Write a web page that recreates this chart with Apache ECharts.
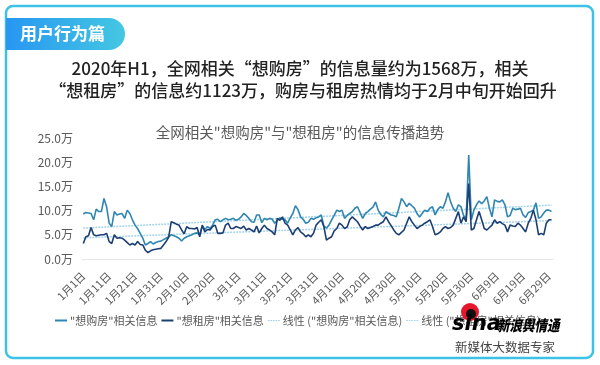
<!DOCTYPE html>
<html><head><meta charset="utf-8">
<script src="https://cdn.jsdelivr.net/npm/echarts@6/dist/echarts.min.js"></script>
<style>html,body{margin:0;padding:0;background:#fff}#c{width:600px;height:365px}</style>
</head><body><div id="c"></div>
<script>
// ---- data ----
const monthLengths = [31, 29, 31, 30, 31, 30]; // 2020 H1
const buyName = '"想购房"相关信息';
const rentName = '"想租房"相关信息';
const buyTrendName = '线性 ("想购房"相关信息)';
const rentTrendName = '线性 ("想租房"相关信息)';
const yTicks = [0, 5, 10, 15, 20, 25];
const buyValues = [
  9.3,9.6,9.5,9.4,8.1,10.3,9.8,9.8,12.5,10.8,
  7.4,6.7,9.8,9.1,9.3,9.4,8.4,10.1,9.4,8.1,
  7.0,6.3,5.3,4.3,2.9,3.2,3.6,3.1,3.4,3.6,
  3.7,4.0,4.3,4.6,5.0,4.8,4.6,4.3,3.7,4.3,
  4.6,4.8,5.0,5.3,5.4,5.0,6.8,6.1,6.7,6.3,
  7.0,8.1,8.2,7.7,8.1,8.4,8.1,8.2,8.4,8.0,
  8.2,8.7,9.4,9.0,8.4,7.7,7.6,9.1,9.1,7.5,
  8.4,8.1,8.4,8.2,7.4,8.0,8.5,8.2,8.1,7.4,
  8.5,9.4,11.0,10.2,8.7,8.2,7.4,7.6,8.4,8.2,
  8.5,8.7,9.1,6.8,6.4,7.0,8.1,9.0,10.1,9.8,
  10.1,8.4,9.0,9.4,9.8,10.5,10.8,9.6,8.4,9.4,
  9.8,10.3,10.7,11.8,10.1,9.2,8.7,9.8,9.4,9.1,
  9.0,8.7,10.5,12.5,11.8,10.8,11.5,11.0,10.5,9.4,
  8.7,9.4,10.1,9.8,10.5,10.8,9.1,10.2,10.8,10.5,
  11.8,13.7,11.8,10.5,9.8,11.2,10.8,9.0,8.4,21.5,
  8.1,10.1,11.2,12.0,11.4,12.0,12.9,10.5,8.7,12.2,
  11.9,11.8,12.2,11.2,8.7,9.0,10.5,10.2,10.3,10.5,
  9.1,8.6,9.6,9.8,10.1,11.6,8.4,8.7,9.5,10.1,
  10.1,9.8
];
const rentValues = [
  3.2,4.6,4.8,6.5,5.0,4.8,4.9,5.0,5.0,5.3,
  3.6,3.2,5.0,4.3,4.4,4.3,3.9,3.4,2.9,3.2,
  2.9,3.6,3.0,2.9,1.8,1.3,1.7,1.9,2.0,2.1,
  2.2,2.9,3.6,4.5,7.7,7.5,7.2,7.0,6.0,5.2,
  6.7,6.3,6.3,6.2,6.5,4.6,7.0,5.6,6.1,6.0,
  6.7,7.0,5.3,5.3,5.4,7.0,7.4,6.3,6.3,6.7,
  6.5,6.3,6.8,6.0,6.3,6.0,5.6,6.8,5.4,6.3,
  7.0,6.3,6.0,5.6,5.0,8.4,8.0,8.7,7.4,7.0,
  6.0,5.0,6.0,6.5,5.6,5.2,4.6,5.0,4.6,5.3,
  7.0,7.6,8.1,6.7,3.9,4.3,4.6,5.8,6.3,7.4,
  7.0,6.3,6.6,8.1,8.7,8.2,7.7,6.8,6.0,6.7,
  6.3,6.5,6.7,7.0,7.0,7.4,7.7,8.7,7.7,6.9,
  6.0,5.3,5.0,5.5,6.0,7.4,8.7,7.7,7.0,6.3,
  6.7,7.0,7.4,7.7,8.1,6.7,5.0,5.2,5.6,6.3,
  6.7,6.3,6.5,7.0,8.4,9.8,7.4,8.7,7.7,15.6,
  6.0,6.3,8.1,9.8,8.1,6.3,6.0,6.5,7.0,8.1,
  7.4,7.7,7.3,7.0,5.6,7.0,6.8,6.7,7.4,7.0,
  6.3,5.6,7.4,8.4,10.1,8.1,5.0,5.3,5.0,7.4,
  8.1,8.1
];

// ---- derived ----
const categories = [];
monthLengths.forEach((len, m) => { for (let d = 1; d <= len; d++) categories.push((m + 1) + '月' + d + '日'); });
function linearFit(vals) {
  const n = vals.length; let sx = 0, sy = 0, sxx = 0, sxy = 0;
  vals.forEach((v, i) => { sx += i; sy += v; sxx += i * i; sxy += i * v; });
  const b = (n * sxy - sx * sy) / (n * sxx - sx * sx); const a = (sy - b * sx) / n;
  return vals.map((_, i) => +(a + b * i).toFixed(3));
}
const buyTrend = linearFit(buyValues);
const rentTrend = linearFit(rentValues);

const FONT = '"Noto Sans CJK SC", "Noto Sans", sans-serif';
const GRAY = '#595959';
const DOTTED = 'path://M0,0h2v1h-2z M3,0h2v1h-2z M6,0h2v1h-2z M9,0h2v1h-2z M12,0h2v1h-2z';
const chart = echarts.init(document.getElementById('c'), null, { renderer: 'canvas' });
chart.setOption({
  backgroundColor: '#fff',
  animation: false,
  textStyle: { fontFamily: FONT },
  title: {
    text: '全网相关"想购房"与"想租房"的信息传播趋势',
    left: 'center', top: 120,
    textStyle: { fontSize: 14.5, fontWeight: 'normal', color: GRAY, fontFamily: FONT }
  },
  grid: { left: 82, top: 138, width: 470.8, height: 121 },
  legend: {
    left: 50, top: 310, itemWidth: 12, itemHeight: 2, itemGap: 4,
    textStyle: { fontSize: 11, color: GRAY, fontFamily: FONT, padding: [0, 0, 0, -2] },
    data: [
      { name: buyName, icon: 'rect' },
      { name: rentName, icon: 'rect' },
      { name: buyTrendName, icon: DOTTED },
      { name: rentTrendName, icon: DOTTED }
    ]
  },
  xAxis: {
    type: 'category', data: categories, boundaryGap: true,
    axisLine: { lineStyle: { color: '#e6e6e6', width: 1 } },
    axisTick: { show: false },
    axisLabel: { interval: 9, rotate: 45, fontSize: 11, color: GRAY, margin: 15, fontFamily: FONT }
  },
  yAxis: {
    type: 'value', min: yTicks[0], max: yTicks[yTicks.length - 1], interval: 5,
    axisLine: { show: false }, axisTick: { show: false }, splitLine: { show: false },
    axisLabel: { fontSize: 12, color: GRAY, margin: 9, fontFamily: FONT, formatter: v => v.toFixed(1) + '万' }
  },
  series: [
    { name: buyTrendName, type: 'line', data: buyTrend, symbol: 'none', silent: true,
      lineStyle: { color: '#a6d3ec', width: 1.5, type: [2, 1] }, itemStyle: { color: '#a6d3ec' } },
    { name: rentTrendName, type: 'line', data: rentTrend, symbol: 'none', silent: true,
      lineStyle: { color: '#a6d3ec', width: 1.5, type: [2, 1] }, itemStyle: { color: '#a6d3ec' } },
    { name: buyName, type: 'line', data: buyValues, symbol: 'none',
      lineStyle: { color: '#2f86b0', width: 1.6 }, itemStyle: { color: '#2f86b0' } },
    { name: rentName, type: 'line', data: rentValues, symbol: 'none',
      lineStyle: { color: '#1c3f73', width: 1.6 }, itemStyle: { color: '#1c3f73' } }
  ],
  graphic: [
    { type: 'rect', shape: { x: 6, y: 6, width: 587, height: 352, r: 7 },
      style: { fill: 'none', stroke: '#3dc2e6', lineWidth: 2.5 }, z: 10 },
    { type: 'rect', shape: { x: 6, y: 18, width: 119, height: 32, r: [0, 16, 16, 0] },
      style: { fill: new echarts.graphic.LinearGradient(0, 0, 1, 0, [
        { offset: 0, color: '#2797f2' }, { offset: 1, color: '#44c7e2' }]) }, z: 11 },
    { type: 'text', x: 20, y: 34, z: 12,
      style: { text: '用户行为篇', fill: '#fff', font: 'bold 17px ' + FONT, textVerticalAlign: 'middle' } },
    { type: 'text', x: 300, y: 69, z: 12,
      style: { text: '2020年H1，全网相关“想购房”的信息量约为1568万，相关', fill: '#222',
        font: '500 17px ' + FONT, textAlign: 'center', textVerticalAlign: 'middle' } },
    { type: 'text', x: 303, y: 91, z: 12,
      style: { text: '“想租房”的信息约1123万，购房与租房热情均于2月中旬开始回升', fill: '#222',
        font: '500 17px ' + FONT, textAlign: 'center', textVerticalAlign: 'middle' } },
    { type: 'circle', shape: { cx: 470, cy: 312, r: 9 }, style: { fill: '#e6162d' }, z: 12 },
    { type: 'circle', shape: { cx: 471, cy: 314, r: 5 }, style: { fill: '#111' }, z: 13 },
    { type: 'text', x: 452, y: 325, z: 14,
      style: { text: 'sina', fill: '#000', font: 'italic 900 21px "DejaVu Sans", sans-serif', textVerticalAlign: 'middle' } },
    { type: 'text', x: 497, y: 325, z: 14, scaleY: 1.2, originX: 0, originY: 0,
      style: { text: '新浪舆情通', fill: '#000', font: 'italic 900 12.5px ' + FONT, textVerticalAlign: 'middle' } },
    { type: 'text', x: 505, y: 347, z: 14,
      style: { text: '新媒体大数据专家', fill: '#444', font: '12.5px ' + FONT, textAlign: 'center', textVerticalAlign: 'middle' } }
  ]
});
</script></body></html>
